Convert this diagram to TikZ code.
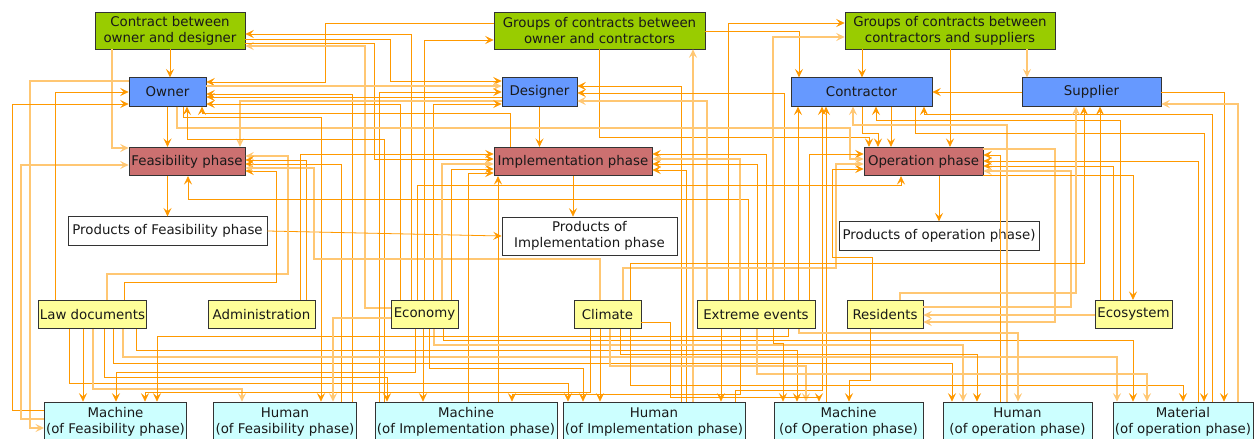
\documentclass[tikz,border=0pt]{standalone}
\usepackage{fontspec}
\setmainfont{DejaVu Sans}
\usetikzlibrary{arrows.meta}
\definecolor{PlanGreen}{HTML}{99CC00}
\definecolor{PlanBlue}{HTML}{6699FF}
\definecolor{PlanRed}{HTML}{CC7070}
\definecolor{PlanYellow}{HTML}{FFFF99}
\definecolor{PlanCyan}{HTML}{CCFFFF}
\definecolor{PlanOrange}{HTML}{FF9900}
\definecolor{PlanBorder}{HTML}{333333}
\tikzset{
    % Box styles
    box/.style={
        rectangle,
        draw=PlanBorder,
        line width=0.45pt,
        fill=white,
        minimum height=0.57cm,
        inner sep=1pt,
        align=center,
        text=black!90,
        font=\fontsize{7.6}{9.1}\selectfont
    },
    box contract/.style={box, fill=PlanGreen, minimum height=0.74cm},
    box actor/.style={box, fill=PlanBlue},
    box phase/.style={box, fill=PlanRed},
    box product/.style={box},
    box env/.style={box, fill=PlanYellow},
    box resource/.style={box, fill=PlanCyan, minimum height=0.8cm},
    % Connector styles
    link style/.style={
        -{Stealth[length=4.8pt, width=4.6pt, inset=1.9pt]},
        draw=PlanOrange,
        line width=0.45pt
    },
    link pale style/.style={
        link style,
        draw=PlanOrange!55,
        line width=0.8pt
    }
}
\begin{document}
\begin{tikzpicture}[x=0.02cm, y=-0.02cm]
        \clip (0,0) rectangle (1259,439);

        % Contracts
        \node[box contract, minimum width=3cm] (cod) at (170,30.5) {Contract between\\owner and designer};
        \node[box contract, minimum width=4.22cm] (coc) at (599.5,30.5) {Groups of contracts between\\owner and contractors};
        \node[box contract, minimum width=4.2cm] (ccs) at (950,30.5) {Groups of contracts between\\contractors and suppliers};

        % Actors
        \node[box actor, minimum width=1.54cm] (owner) at (167.5,92) {Owner};
        \node[box actor, minimum width=1.5cm] (designer) at (539.5,92) {Designer};
        \node[box actor, minimum width=2.82cm] (contractor) at (861.5,92) {Contractor};
        \node[box actor, minimum width=2.78cm] (supplier) at (1091.5,92) {Supplier};

        % Phases
        \node[box phase, minimum width=2.32cm] (feas) at (187,161.5) {Feasibility phase};
        \node[box phase, minimum width=3.16cm] (impl) at (573,161.5) {Implementation phase};
        \node[box phase, minimum width=2.38cm] (oper) at (923.5,161.5) {Operation phase};

        % Products
        \node[box product, minimum width=3.98cm] (pfeas) at (167.5,231) {Products of Feasibility phase};
        \node[box product, minimum width=3.5cm, minimum height=0.76cm] (pimpl) at (589.5,236) {Products of\\Implementation phase};
        \node[box product, minimum width=4cm] (poper) at (939,236) {Products of operation phase)};

        % Environment
        \node[box env, minimum width=2.14cm] (law) at (92.5,314.5) {Law documents};
        \node[box env, minimum width=2.14cm] (admin) at (261.5,314.5) {Administration};
        \node[box env, minimum width=1.34cm] (econ) at (424.5,314.5) {Economy};
        \node[box env, minimum width=1.34cm] (climate) at (607.5,314.5) {Climate};
        \node[box env, minimum width=2.36cm] (extreme) at (756,314.5) {Extreme events};
        \node[box env, minimum width=1.52cm] (residents) at (885,314.5) {Residents};
        \node[box env, minimum width=1.54cm] (ecosys) at (1133.5,314.5) {Ecosystem};

        % Resources
        \node[box resource, minimum width=2.82cm] (mf) at (115.5,422) {Machine\\(of Feasibility phase)};
        \node[box resource, minimum width=2.84cm] (hf) at (285,422) {Human\\(of Feasibility phase)};
        \node[box resource, minimum width=3.64cm] (mi) at (466,422) {Machine\\(of Implementation phase)};
        \node[box resource, minimum width=3.64cm] (hi) at (654,422) {Human\\(of Implementation phase)};
        \node[box resource, minimum width=2.98cm] (mo) at (848.5,422) {Machine\\(of Operation phase)};
        \node[box resource, minimum width=2.98cm] (ho) at (1017.5,422) {Human\\(of operation phase)};
        \node[box resource, minimum width=2.8cm] (mat) at (1183,422) {Material\\(of operation phase)};

        % Contract links
        \draw[link style] (cod.south -| 170,0) -- (owner.north -| 170,0);
        \draw[link pale style] (cod.south -| 112,0) |- (feas.west |- 0,148);
        \draw[link style] (coc.west |- 0,23) -| (325,82) -- (owner.east |- 0,82);
        \draw[link style] (coc.east |- 0,31) -| (contractor.north -| 799,0);
        \draw[link style] (coc.south) |- (869,137) -- (oper.north -| 869,0);
        \draw[link pale style] (hi.north -| 693,0) -- (coc.south -| 693,0);
        \draw[link style] (ccs.south -| 862,0) -- (contractor.north -| 862,0);
        \draw[link style] (ccs.south -| 950,0) -- (oper.north -| 950,0);
        \draw[link pale style] (ccs.south -| 1027,0) -- (supplier.north -| 1027,0);
        \draw[link style] (extreme.north -| 728,0) |- (ccs.west |- 0,23);
        \draw[link pale style] (extreme.north -| 773,0) |- (ccs.west |- 0,37);
        \draw[link style] (econ.north -| 411,0) |- (cod.east |- 0,34);
        \draw[link pale style] (econ.west |- 0,308) -| (365,46) -- (cod.east |- 0,46);
        \draw[link style] (cod.east |- 0,39) -| (390,81) -- (designer.west |- 0,81);
        \draw[link style] (cod.east |- 0,43) -| (374,159) -- (impl.west |- 0,159);
        \draw[link style] (econ.north -| 424,0) |- (coc.west |- 0,40);

        % Owner and designer links
        \draw[link pale style] (owner.west |- 0,81) -- (30,81) |- (mf.west |- 0,428);
        \draw[link style] (mf.west |- 0,410) -- (12,410) |- (owner.west |- 0,104);
        \draw[link pale style] (mf.west |- 0,419) -- (21,419) |- (feas.west |- 0,165);
        \draw[link style] (law.north -| 55,0) |- (owner.west |- 0,92);
        \draw[link style] (owner.south) -- (owner.south |- feas.north);
        \draw[link style] (hf.north -| 352,0) |- (owner.east |- 0,94);
        \draw[link pale style] (owner.east |- 0,86) -- (designer.west |- 0,86);
        \draw[link style] (designer.west |- 0,97) -- (owner.east |- 0,97);
        \draw[link pale style] (designer.west |- 0,101) -| (feas.north -| 240,0);
        \draw[link style] (econ.north -| 400,0) |- (owner.east |- 0,104);
        \draw[link style] (econ.north -| 433,0) |- (designer.west |- 0,104);
        \draw[link style] (mi.north -| 379,0) |- (designer.west |- 0,92);
        \draw[link style] (designer.south) -- (designer.south |- impl.north);
        \draw[link style] (hi.north -| 681,0) |- (designer.east |- 0,86);
        \draw[link style] (extreme.north -| 784,0) |- (designer.east |- 0,93);
        \draw[link pale style] (extreme.north -| 707,0) |- (designer.east |- 0,101);
        \draw[link pale style] (owner.south -| 177,0) |- (850,128) |- (oper.west |- 0,159);
        \draw[link style] (owner.south -| 183,0) |- (321,117) -- (hf.north -| 321,0);
        \draw[link style] (impl.north -| 510,0) |- (202,113) -- (owner.south -| 202,0);
        \draw[link style] (mi.north -| 384,0) |- (187,139) -- (owner.south -| 187,0);

        % Feasibility links
        \draw[link style] (feas.south -| 167.5,0) -- (pfeas.north -| 167.5,0);
        \draw[link style] (pfeas.east) -- (pimpl.west);
        \draw[link pale style] (law.north -| 107,0) |- (288,274) |- (feas.east |- 0,156);
        \draw[link style] (law.north -| 124,0) |- (276,282) |- (feas.east |- 0,171);
        \draw[link style] (admin.north -| 306,0) |- (feas.east |- 0,160);
        \draw[link style] (hf.north -| 341,0) |- (feas.east |- 0,164);
        \draw[link pale style] (climate.north -| 600,0) |- (314,259) |- (feas.east |- 0,168);
        \draw[link style] (extreme.north -| 748,0) |- (188,199) -- (feas.south -| 188,0);

        % Implementation links
        \draw[link style] (admin.north -| 300,0) |- (impl.west |- 0,154);
        \draw[link pale style] (econ.north -| 442,0) |- (impl.west |- 0,164);
        \draw[link style] (econ.north -| 451,0) |- (impl.west |- 0,169);
        \draw[link style] (mi.north -| 468,0) |- (impl.west |- 0,173);
        \draw[link style] (mi.north -| 498,0) -- (impl.south -| 498,0);
        \draw[link style] (impl.south -| 573,0) -- (pimpl.north -| 573,0);
        \draw[link style] (extreme.north -| 766,0) |- (impl.east |- 0,154);
        \draw[link pale style] (extreme.north -| 740,0) |- (impl.east |- 0,159);
        \draw[link style] (extreme.north -| 757,0) |- (impl.east |- 0,164);
        \draw[link style] (hi.north -| 686,0) |- (impl.east |- 0,170);

        % Operation links
        \draw[link style] (extreme.north -| 809,0) |- (oper.west |- 0,154);
        \draw[link pale style] (climate.north -| 623,0) |- (836,268) |- (oper.west |- 0,164);
        \draw[link style] (residents.north -| 872,0) |- (832,257) |- (oper.west |- 0,169);
        \draw[link style] (econ.north -| 417,0) |- (901,185) -- (oper.south -| 901,0);
        \draw[link style] (oper.south -| 939,0) -- (poper.north -| 939,0);
        \draw[link style] (contractor.south -| 862,0) |- (878,133) -- (oper.north -| 878,0);
        \draw[link style] (contractor.south -| 891,0) -- (oper.north -| 891,0);
        \draw[link pale style] (oper.east |- 0,149) -| (1055,322) -- (residents.east |- 0,322);
        \draw[link style] (ho.north -| 1000,0) |- (oper.east |- 0,155);
        \draw[link style] (mat.north -| 1198,0) |- (oper.east |- 0,161);
        \draw[link style] (ecosys.north -| 1113,0) |- (oper.east |- 0,166);
        \draw[link pale style] (residents.east |- 0,307) -- (1071,307) |- (oper.east |- 0,171);
        \draw[link style] (oper.east |- 0,175) -| (ecosys.north -| 1133,0);
        \draw[link pale style] (ecosys.west |- 0,315) -- (residents.east |- 0,315);

        % Contractor and supplier links
        \draw[link style] (mo.north -| 826,0) -- (contractor.south -| 826,0);
        \draw[link style] (extreme.north -| 798,0) -- (contractor.south -| 798,0);
        \draw[link style] (hi.north -| 735,0) |- (822,390) -- (contractor.south -| 822,0);
        \draw[link pale style] (ho.north -| 1007,0) |- (853,125) -- (contractor.south -| 853,0);
        \draw[link style] (mat.north -| 1212,0) |- (924,114) -- (contractor.south -| 924,0);
        \draw[link style] (contractor.south -| 915,0) |- (1204,133) -- (mat.north -| 1204,0);
        \draw[link style] (ecosys.north -| 1120,0) |- (876,120) -- (contractor.south -| 876,0);
        \draw[link style] (supplier.west) -- (contractor.east);
        \draw[link style] (supplier.east) -| (mat.north -| 1224,0);
        \draw[link pale style] (mat.north -| 1238,0) |- (supplier.east |- 0,104);
        \draw[link pale style] (residents.north -| 900,0) |- (1076,293) -- (supplier.south -| 1076,0);
        \draw[link style] (climate.north -| 630,0) |- (1084,263) -- (supplier.south -| 1084,0);
        \draw[link style] (ecosys.north -| 1100,0) -- (supplier.south -| 1100,0);

        % Environment to resources
        \draw[link style] (law.south -| 69,0) |- (568,383) -- (hi.north -| 568,0);
        \draw[link style] (law.south -| 83,0) -- (mf.north -| 83,0);
        \draw[link pale style] (law.south -| 93,0) |- (242,389) -- (hf.north -| 242,0);
        \draw[link style] (law.south -| 104,0) |- (387,377) -- (mi.north -| 387,0);
        \draw[link style] (law.south -| 113,0) |- (952,363) -- (ho.north -| 952,0);
        \draw[link pale style] (law.south -| 123,0) |- (1117,357) -- (mat.north -| 1117,0);
        \draw[link style] (law.south -| 136,0) |- (797,350) -- (mo.north -| 797,0);
        \draw[link style] (econ.south -| 415,0) |- (116,372) -- (mf.north -| 116,0);
        \draw[link style] (econ.south -| 423,0) -- (mi.north -| 423,0);
        \draw[link style] (econ.south -| 429,0) |- (583,368) -- (hi.north -| 583,0);
        \draw[link pale style] (econ.south -| 434,0) |- (963,345) -- (ho.north -| 963,0);
        \draw[link style] (econ.south -| 443,0) |- (1133,340) -- (mat.north -| 1133,0);
        \draw[link style] (climate.south -| 590,0) |- (145,392) -- (mf.north -| 145,0);
        \draw[link style] (climate.south -| 600,0) -- (hi.north -| 600,0);
        \draw[link pale style] (climate.south -| 610,0) |- (806,366) -- (mo.north -| 806,0);
        \draw[link style] (climate.south -| 620,0) |- (977,354) -- (ho.north -| 977,0);
        \draw[link style] (climate.south -| 630,0) |- (1183,385) -- (mat.north -| 1183,0);
        \draw[link style] (extreme.south -| 721,0) -- (hi.north -| 721,0);
        \draw[link style] (extreme.south -| 740,0) |- (512,394) -- (mi.north -| 512,0);
        \draw[link pale style] (extreme.south -| 757,0) |- (1147,374) -- (mat.north -| 1147,0);
        \draw[link style] (extreme.south -| 773,0) |- (783,343) -- (mo.north -| 783,0);
        \draw[link style] (extreme.south -| 788,0) |- (157,336) -- (mf.north -| 157,0);
        \draw[link pale style] (extreme.south -| 799,0) |- (1018,333) -- (ho.north -| 1018,0);
        \draw[link style] (residents.south -| 870,0) |- (849,380) -- (mo.north -| 849,0);
        \draw[link pale style] (econ.west |- 0,318) -| (hf.north -| 333,0);
        \draw[link style] (climate.east |- 0,322) -- (670,322) |- (819,397) -- (mo.north -| 819,0);
    \end{tikzpicture}
\end{document}
